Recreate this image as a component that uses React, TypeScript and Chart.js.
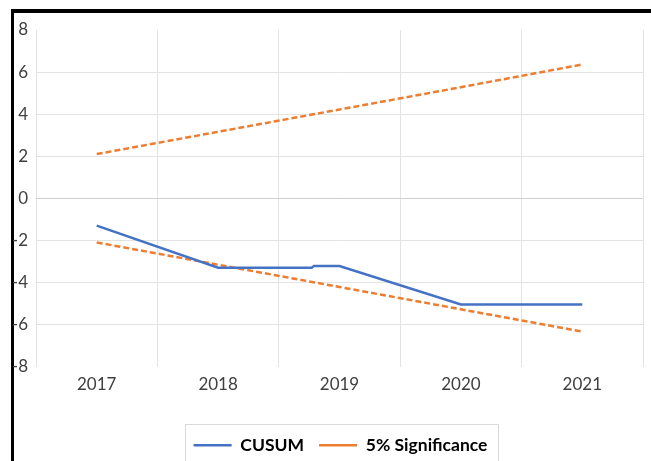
import { useEffect, useRef } from "react";
import { Chart, registerables } from "chart.js";

Chart.register(...registerables);

const YEARS = [2017, 2018, 2019, 2020, 2021];
const CUSUM_X = [2017, 2018, 2018.77, 2018.79, 2019, 2020, 2021];
const CUSUM_Y = [-1.3, -3.3, -3.3, -3.22, -3.22, -5.05, -5.05];
const SIG_UPPER = [2.1, 3.16, 4.22, 5.28, 6.36];
const SIG_LOWER = [-2.1, -3.16, -4.22, -5.28, -6.34];
const Y_MIN = -8;
const Y_MAX = 8;
const Y_STEP = 2;

const FONT = "Lato, 'Open Sans', sans-serif";
const LEGEND_SHIFT = 10;

const framePlugin = {
  id: "frame",
  afterLayout(chart: any) {
    const lg = chart.legend;
    if (!lg) return;
    lg.left += LEGEND_SHIFT;
    lg.right += LEGEND_SHIFT;
    if (lg.legendHitBoxes) {
      for (const b of lg.legendHitBoxes) b.left += LEGEND_SHIFT;
    }
  },
  beforeDraw(chart: any) {
    const ctx = chart.ctx;
    ctx.save();
    ctx.fillStyle = "#ffffff";
    ctx.fillRect(0, 0, chart.width, chart.height);
    ctx.fillStyle = "#000000";
    ctx.fillRect(11, 9, chart.width - 11, 4);
    ctx.fillRect(11, 9, 3, chart.height - 9);
    ctx.restore();
  },
  afterDraw(chart: any) {
    const lg = chart.legend;
    if (!lg || !lg.legendHitBoxes || !lg.legendHitBoxes.length) return;
    const boxes = lg.legendHitBoxes;
    let minX = Infinity;
    let maxX = -Infinity;
    let top = Infinity;
    for (const b of boxes) {
      minX = Math.min(minX, b.left);
      maxX = Math.max(maxX, b.left + b.width);
      top = Math.min(top, b.top);
    }
    const ctx = chart.ctx;
    ctx.save();
    ctx.strokeStyle = "#d9d9d9";
    ctx.lineWidth = 1;
    ctx.strokeRect(Math.round(minX - 9) + 0.5, Math.round(top - 13) + 0.5, Math.round(maxX - minX + 19), 100);
    ctx.restore();
  },
};

export default function App() {
  const ref = useRef<HTMLCanvasElement | null>(null);

  useEffect(() => {
    if (!ref.current) return;
    const chart = new Chart(ref.current, {
      type: "line",
      data: {
        datasets: [
          {
            label: "CUSUM",
            data: CUSUM_X.map((x, i) => ({ x, y: CUSUM_Y[i] })),
            borderColor: "#4472C4",
            backgroundColor: "#4472C4",
            borderWidth: 2.5,
            pointRadius: 0,
            tension: 0,
          },
          {
            label: "5% Significance",
            data: YEARS.map((x, i) => ({ x, y: SIG_UPPER[i] })),
            borderColor: "#ED7D31",
            backgroundColor: "#ED7D31",
            borderWidth: 2.5,
            borderDash: [6, 3],
            pointRadius: 0,
            tension: 0,
          },
          {
            label: "5% Significance lower",
            data: YEARS.map((x, i) => ({ x, y: SIG_LOWER[i] })),
            borderColor: "#ED7D31",
            backgroundColor: "#ED7D31",
            borderWidth: 2.5,
            borderDash: [6, 3],
            pointRadius: 0,
            tension: 0,
          },
        ],
      },
      options: {
        responsive: false,
        animation: false,
        layout: { padding: { left: 13, right: 3, top: 30, bottom: -3 } },
        plugins: {
          tooltip: { enabled: false },
          legend: {
            position: "bottom",
            labels: {
              filter: (item: any) => item.datasetIndex !== 2,
              usePointStyle: true,
              pointStyle: "line",
              pointStyleWidth: 38,
              boxHeight: 17,
              padding: 15,
              color: "#000000",
              font: { family: FONT, size: 17.5, weight: "bold" },
            },
          },
        },
        scales: {
          x: {
            type: "linear",
            min: YEARS[0] - 0.5,
            max: YEARS[YEARS.length - 1] + 0.5,
            afterFit: (s: any) => {
              s.height = 55;
            },
            border: { display: false },
            grid: {
              drawTicks: false,
              color: (c: any) =>
                c.tick && Number.isInteger(c.tick.value) ? "rgba(0,0,0,0)" : "#e3e3e3",
            },
            ticks: {
              stepSize: 0.5,
              autoSkip: false,
              maxRotation: 0,
              padding: 8,
              color: "#404040",
              font: { family: FONT, size: 17 },
              callback: (v: any) => (Number.isInteger(v) ? String(v) : ""),
            },
          },
          y: {
            min: Y_MIN,
            max: Y_MAX,
            afterFit: (s: any) => {
              s.width = 23;
            },
            border: { display: false },
            grid: {
              drawTicks: false,
              color: (c: any) => {
                const v = c.tick ? c.tick.value : 0;
                if (v === Y_MIN || v === Y_MAX) return "rgba(0,0,0,0)";
                if (v === 0) return "#cfcfcf";
                return "#e3e3e3";
              },
            },
            ticks: {
              stepSize: Y_STEP,
              padding: 8,
              color: "#404040",
              font: { family: FONT, size: 17 },
            },
          },
        },
      },
      plugins: [framePlugin],
    } as any);
    return () => chart.destroy();
  }, []);

  return (
    <div style={{ position: "absolute", left: 0, top: 0, width: 651, height: 461 }}>
      <canvas ref={ref} width={651} height={461} style={{ display: "block" }} />
    </div>
  );
}
